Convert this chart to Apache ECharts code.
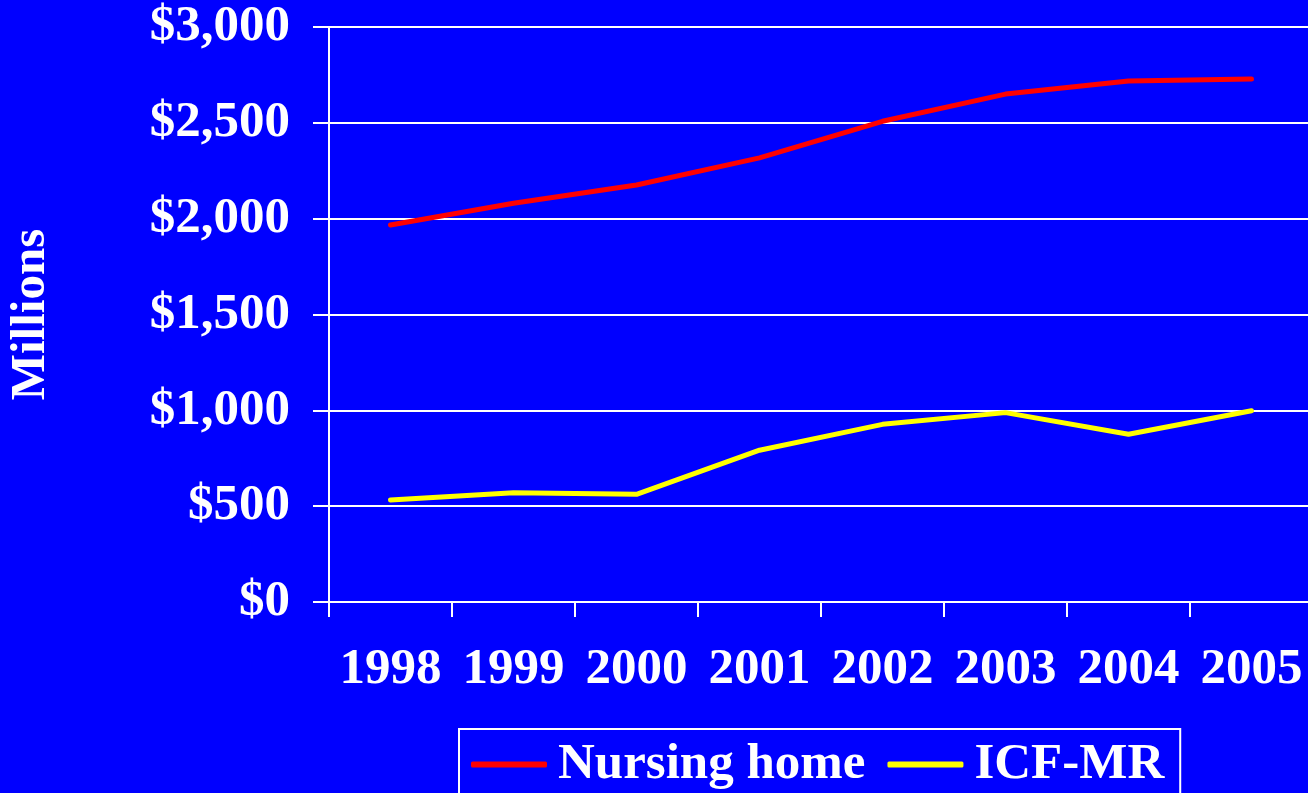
<!DOCTYPE html>
<html>
<head>
<meta charset="utf-8">
<script src="https://cdn.jsdelivr.net/npm/echarts@6/dist/echarts.min.js"></script>
<style>
html,body{margin:0;padding:0;background:#0000ff;}
#chart{width:1308px;height:793px;}
</style>
</head>
<body>
<div id="chart"></div>
<script>
const categories = ['1998','1999','2000','2001','2002','2003','2004','2005'];
const nursingHome = [1967, 2080, 2176, 2317, 2508, 2650, 2718, 2729];
const icfMr = [532, 570, 562, 792, 927, 988, 875, 998];
const yTicks = [0, 500, 1000, 1500, 2000, 2500, 3000];

const FONT = '"Liberation Serif", "Times New Roman", serif';
const chart = echarts.init(document.getElementById('chart'));
chart.setOption({
  backgroundColor: '#0000ff',
  animation: false,
  grid: {left: 329, top: 27, width: 984, height: 575, containLabel: false, outerBoundsMode: 'none'},
  legend: {
    left: 459, top: 729,
    selectedMode: false,
    borderColor: '#ffffff', borderWidth: 2,
    padding: [10, 16, 12, 12],
    itemGap: 22,
    itemWidth: 76, itemHeight: 6,
    icon: 'roundRect',
    textStyle: {color: '#ffffff', fontFamily: FONT, fontWeight: 'bold', fontSize: 51, padding: [0, 0, 0, 6]},
    data: ['Nursing home', 'ICF-MR']
  },
  xAxis: {
    type: 'category',
    data: categories,
    boundaryGap: true,
    axisLine: {lineStyle: {color: '#ffffff', width: 2}},
    axisTick: {show: true, length: 15, lineStyle: {color: '#ffffff', width: 2}},
    axisLabel: {color: '#ffffff', fontFamily: FONT, fontWeight: 'bold', fontSize: 51, margin: 42, interval: 0},
    splitLine: {show: false}
  },
  yAxis: {
    type: 'value',
    min: yTicks[0], max: yTicks[yTicks.length - 1], interval: 500,
    name: 'Millions',
    nameLocation: 'middle',
    nameRotate: 90,
    nameGap: 273,
    nameTextStyle: {color: '#ffffff', fontFamily: FONT, fontWeight: 'bold', fontSize: 49},
    axisLine: {show: true, lineStyle: {color: '#ffffff', width: 2}},
    axisTick: {show: true, length: 16, lineStyle: {color: '#ffffff', width: 2}},
    axisLabel: {
      color: '#ffffff', fontFamily: FONT, fontWeight: 'bold', fontSize: 51, margin: 39,
      formatter: v => '$' + v.toLocaleString('en-US')
    },
    splitLine: {show: true, lineStyle: {color: '#ffffff', width: 2}}
  },
  series: [
    {
      name: 'Nursing home', type: 'line', data: nursingHome,
      symbol: 'none', showSymbol: false,
      itemStyle: {color: '#ff0000'},
      lineStyle: {color: '#ff0000', width: 5, cap: 'round', join: 'round'}
    },
    {
      name: 'ICF-MR', type: 'line', data: icfMr,
      symbol: 'none', showSymbol: false,
      itemStyle: {color: '#ffff00'},
      lineStyle: {color: '#ffff00', width: 5, cap: 'round', join: 'round'}
    }
  ]
});
</script>
</body>
</html>
